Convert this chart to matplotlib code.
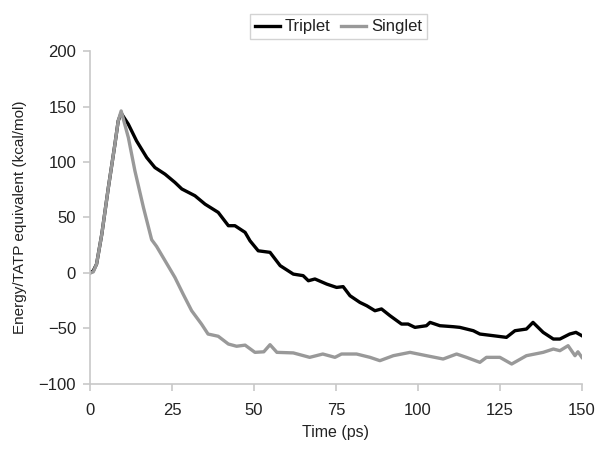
import matplotlib
matplotlib.use('Agg')
from matplotlib import pyplot as plt

# Triplet trajectory (time in ps, energy in kcal/mol)
triplet_t = [0, 1, 2, 3.6, 5.6, 7.6, 8.6, 9.5, 11.7, 14.2, 17.3, 19.8, 22.9, 25.9,
             28, 32, 35.1, 39.1, 42.2, 44.2, 47.3, 48.8, 51.3, 54.9, 58, 62, 65,
             66.6, 68.6, 72.2, 75.2, 77.2, 79.3, 82.3, 84.4, 86.9, 88.9, 91.5, 95,
             97, 99.1, 102.6, 103.7, 106.7, 110.8, 112.8, 116.9, 118.9, 123, 127,
             129.6, 133.1, 135.1, 138.2, 141.3, 143.3, 146.3, 148.2, 150]
triplet_e = [0, 2, 8, 35, 77, 116, 137, 144, 134, 119, 104, 95, 89, 81.6,
             75.7, 69.6, 62, 54.6, 42.6, 42.6, 36.6, 29, 20, 18.6, 6.6, -1, -2.4,
             -7, -5.4, -10, -13, -12.3, -20.5, -26.5, -29.5, -34, -32.4, -38.5, -46,
             -46, -49, -47.5, -44.5, -47.5, -48.4, -49, -52, -55, -56.5, -58,
             -52, -50.5, -44.5, -53.5, -59.5, -59.5, -55, -53.5, -56.5]

# Singlet trajectory
singlet_t = [0, 1, 2, 3.6, 5.6, 7.6, 8.6, 9.5, 11.7, 13.7, 16.3, 18.8, 20.3, 22.9,
             25.9, 28.4, 31, 34, 36, 39.1, 42.2, 44.7, 47.3, 50.3, 53, 54.9, 57,
             62, 67, 71, 74.7, 76.7, 81.3, 85.4, 88.4, 92.5, 97.6, 102.6, 107.7,
             111.8, 114.8, 118.9, 120.9, 125, 128.6, 133.1, 138.2, 141.3, 143.3,
             145.8, 147.9, 148.8, 150]
singlet_e = [0, 1, 8, 35, 77, 116, 137, 146, 122, 92, 59, 30, 24, 11,
             -4, -19, -34, -46, -55, -57, -64, -66, -65, -71.5, -71, -64.6, -71.5,
             -72, -76, -73, -76, -73, -73, -76, -79, -74.5, -71.5, -74.5, -77.5,
             -73, -76, -80.5, -76, -76, -82, -74.5, -71.5, -68.5, -70,
             -65.5, -74.5, -71, -76]

labels = ['Triplet', 'Singlet']
xticks = [0, 25, 50, 75, 100, 125, 150]
yticks = [-100, -50, 0, 50, 100, 150, 200]

plt.rcParams['font.family'] = ['Liberation Sans', 'DejaVu Sans']

fig = plt.figure(figsize=(5.98, 4.49), dpi=100)
ax = fig.add_axes([0.1505, 0.1448, 0.8225, 0.7416])

ax.plot(triplet_t, triplet_e, color='black', linewidth=2.4, label=labels[0])
ax.plot(singlet_t, singlet_e, color='#999999', linewidth=2.4, label=labels[1])

ax.set_xlim(0, 150)
ax.set_ylim(-100, 200)
ax.set_xticks(xticks)
ax.set_yticks(yticks)

for side in ['top', 'right']:
    ax.spines[side].set_visible(False)
for side in ['left', 'bottom']:
    ax.spines[side].set_color('#c8c8c8')
    ax.spines[side].set_linewidth(1.2)
ax.tick_params(colors='#c8c8c8', labelcolor='#222222', labelsize=12,
               length=5, width=1.2)
ax.tick_params(axis='x', pad=9)
ax.tick_params(axis='y', pad=5)

ax.set_xlabel('Time (ps)', fontsize=11.5, color='#222222', labelpad=5)
ax.set_ylabel('Energy/TATP equivalent (kcal/mol)', fontsize=11,
              color='#222222', labelpad=8)

leg = fig.legend(loc='center', bbox_to_anchor=(0.566, 0.94), ncol=2,
                 fontsize=12, handlelength=1.5, handletextpad=0.3,
                 columnspacing=0.6, frameon=True, fancybox=False,
                 borderpad=0.3)
leg.get_frame().set_edgecolor('#c8c8c8')
leg.get_frame().set_linewidth(1.0)
for t in leg.get_texts():
    t.set_color('#222222')

plt.savefig('out.png', dpi=100)
